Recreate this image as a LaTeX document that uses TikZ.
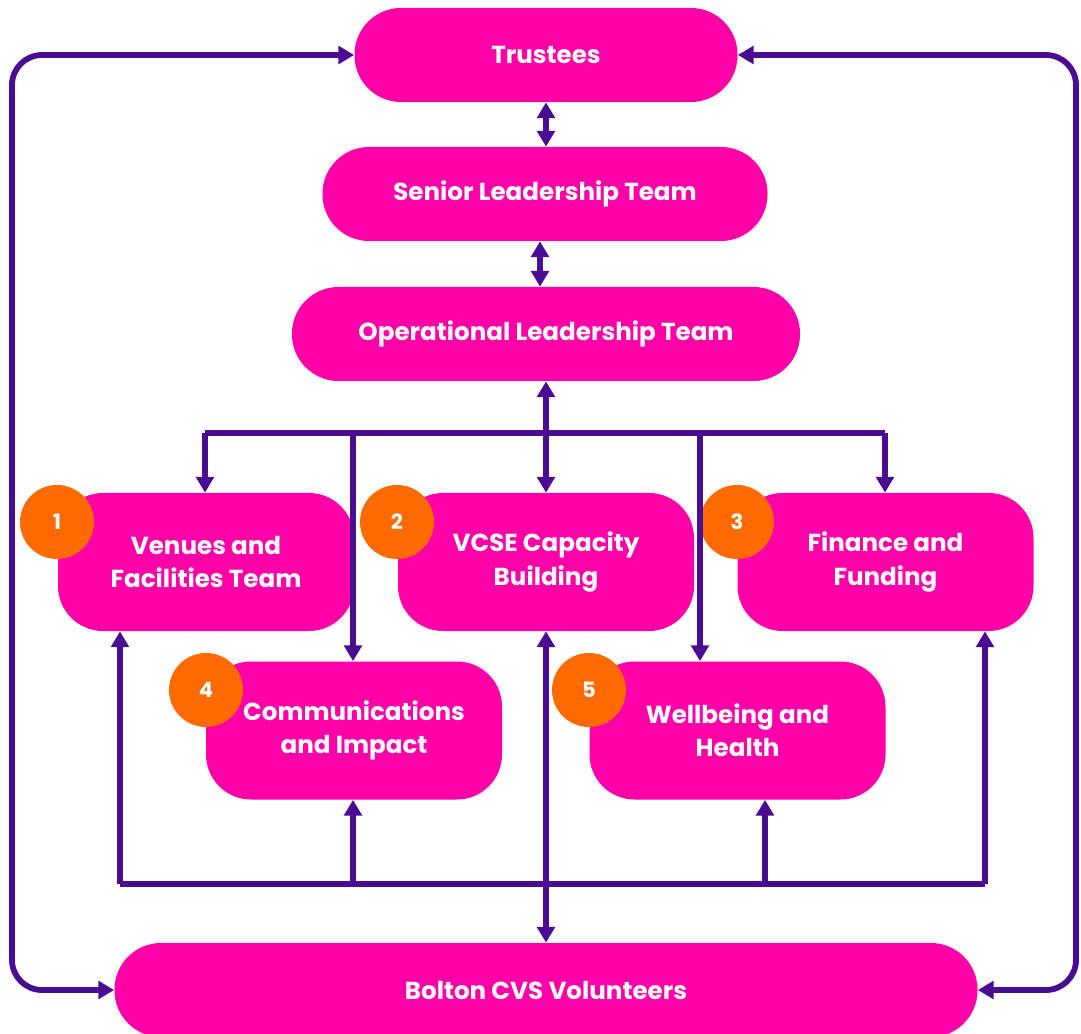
\documentclass[tikz,border=0pt]{standalone}
\usepackage{fontspec}
\setmainfont{Poppins}
\usepackage{tikz}
\usetikzlibrary{positioning,arrows.meta,calc}
\definecolor{cvspink}{HTML}{FF00A8}
\definecolor{cvspurple}{HTML}{4B0C94}
\definecolor{cvsorange}{HTML}{FF6A00}
\tikzset{
  pill/.style={fill=cvspink, rounded corners=0.93cm, minimum height=1.88cm, text=white, font=\fontsize{14}{18}\selectfont\bfseries},
  team/.style={fill=cvspink, rounded corners=0.9cm, minimum width=5.92cm, minimum height=2.76cm, align=center, text=white, font=\fontsize{14}{19}\selectfont\bfseries},
  badge/.style={circle, fill=cvsorange, minimum size=1.48cm, inner sep=0pt, text=white, font=\fontsize{12}{14}\selectfont\bfseries},
  ln/.style={draw=cvspurple, line width=3.3pt},
  ar/.style={ln, -{Triangle[length=9pt,width=10pt]}},
  dar/.style={ln, {Triangle[length=9pt,width=10pt]}-{Triangle[length=9pt,width=10pt]}},
  orgchart/.style={scale=1}
}
\begin{document}
\begin{tikzpicture}[orgchart]
  \useasboundingbox (0,0) rectangle (21.62,-20.68);

  % Leadership pills
  \node[pill, minimum width=7.66cm] (trustees) at (10.92,-1.10) {Trustees};
  \node[pill, minimum width=8.90cm] (slt) at (10.90,-3.88) {Senior Leadership Team};
  \node[pill, minimum width=10.16cm] (olt) at (10.92,-6.68) {Operational Leadership Team};

  % Teams - top row
  \node[team] (venues) at (4.12,-11.24) {Venues and\\Facilities Team};
  \node[team] (vcse) at (10.92,-11.24) {VCSE Capacity\\Building};
  \node[team] (finance) at (17.71,-11.24) {Finance and\\Funding};

  % Teams - second row
  \node[team] (comms) at (7.08,-14.61) {Communications\\and Impact};
  \node[team] (wellbeing) at (14.75,-14.61) {Wellbeing and\\Health};

  % Volunteers
  \node[pill, minimum width=17.26cm] (volunteers) at (10.92,-19.80) {Bolton CVS Volunteers};

  % Number badges
  \node[badge] (b1) at (1.14,-10.44) {1};
  \node[badge] (b2) at (7.94,-10.44) {2};
  \node[badge] (b3) at (14.74,-10.44) {3};
  \node[badge] (b4) at (4.12,-13.80) {4};
  \node[badge] (b5) at (11.78,-13.80) {5};

  % Leadership links
  \draw[dar] (trustees.south -| 10.92,0) -- (slt.north -| 10.92,0);
  \draw[dar] (slt.south -| 10.80,0) -- (olt.north -| 10.80,0);
  \draw[dar] (olt) -- (vcse);
  \draw[dar] (vcse) -- (volunteers);

  % Top bus
  \coordinate (t1) at (4.10,-8.66);
  \coordinate (t2) at (7.06,-8.66);
  \coordinate (t3) at (14.00,-8.66);
  \coordinate (t4) at (17.70,-8.66);
  \draw[ln] (t1) -- (t4);
  \draw[ar] (t1) -- (t1 |- venues.north);
  \draw[ar] (t2) -- (t2 |- comms.north);
  \draw[ar] (t3) -- (t3 |- wellbeing.north);
  \draw[ar] (t4) -- (t4 |- finance.north);

  % Bottom bus
  \coordinate (u1) at (2.40,-17.68);
  \coordinate (u2) at (7.06,-17.68);
  \coordinate (u3) at (15.30,-17.68);
  \coordinate (u4) at (19.70,-17.68);
  \draw[ln] (u1) -- (u4);
  \draw[ar] (u1) -- (u1 |- venues.south);
  \draw[ar] (u2) -- (u2 |- comms.south);
  \draw[ar] (u3) -- (u3 |- wellbeing.south);
  \draw[ar] (u4) -- (u4 |- finance.south);

  % Outer loops
  \coordinate (lpL) at (0.24,-10);
  \coordinate (lpR) at (21.52,-10);
  \draw[dar, rounded corners=0.6cm] (trustees.west) -| (lpL) |- (volunteers.west);
  \draw[dar, rounded corners=0.6cm] (trustees.east) -| (lpR) |- (volunteers.east);
\end{tikzpicture}
\end{document}
